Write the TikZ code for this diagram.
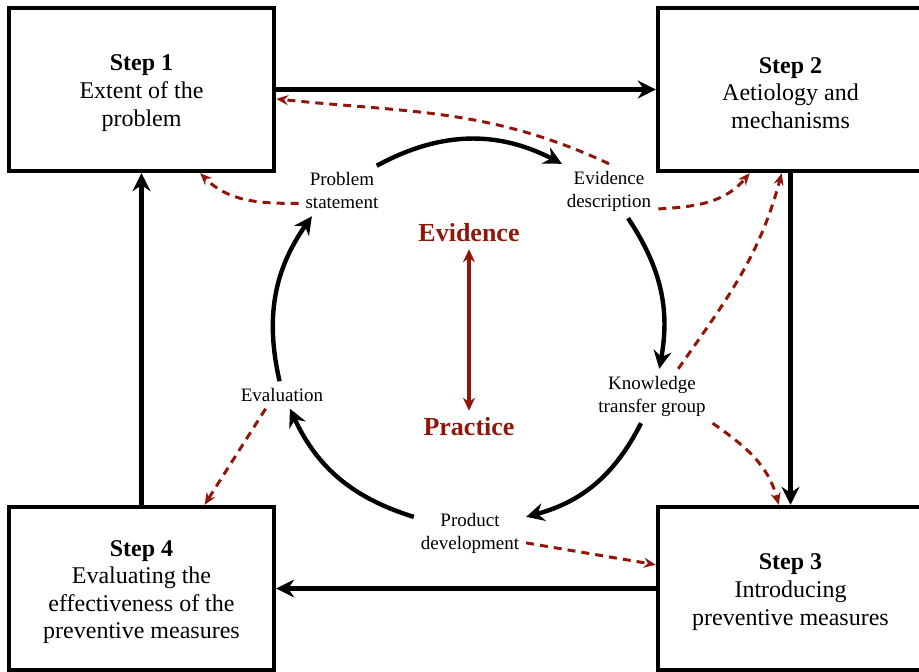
\documentclass[tikz,border=0pt]{standalone}
\usepackage{fontspec}
\setmainfont{Liberation Serif}
\usetikzlibrary{positioning,arrows.meta}

\definecolor{evred}{RGB}{145,22,10}

\begin{document}
\begin{tikzpicture}[x=0.5pt,y=0.5pt,
    stepbox/.style={draw,line width=2.2pt,minimum width=132.5pt,minimum height=81.5pt},
    steptext/.style={align=center,font=\fontsize{12}{13.8}\selectfont},
    stage/.style={align=center,font=\fontsize{9.5}{11.5}\selectfont},
    focus/.style={text=evred,font=\fontsize{13}{15}\selectfont\bfseries},
    flow/.style={line width=2.2pt,-{Stealth[length=9pt,width=9pt,inset=3pt]}},
    feedback/.style={evred,line width=1.5pt,dash pattern=on 4pt off 3pt,
        -{Stealth[length=6pt,width=5pt,inset=2pt]}}]

\useasboundingbox (0,0) rectangle (919,672);
\clip (0,0) rectangle (919,672);

% the four steps
\foreach \x/\y/\name/\head/\body in {
    141.5/582.5/s1/Step 1/{Extent of the\\problem},
    790.5/582.5/s2/Step 2/{Aetiology and\\mechanisms},
    790.5/83.5/s3/Step 3/{Introducing\\preventive measures},
    141.5/83.5/s4/Step 4/{Evaluating the\\effectiveness of the\\preventive measures}} {
    \node[stepbox] (\name) at (\x,\y) {};
    \node[steptext] (\name t) at ([yshift=-1.8pt]\name.center) {\textbf{\head}\\\body};
}

\draw[flow] (s1) -- (s2);
\draw[flow] (s2) -- (s3);
\draw[flow] (s3) -- (s4);
\draw[flow] (s4) -- (s1);

% inner cycle
\node[stage] (ps) at (342,481) {Problem\\statement};
\node[stage] (ed) at (609,481) {Evidence\\description};
\node[stage] (ktg) at (652,276) {Knowledge\\transfer group};
\node[stage] (pd) at (470,139) {Product\\development};
\node[stage] (ev) at (282,277) {Evaluation};

\draw[flow] (ps.36) to[bend left=28] (ed.150);
\draw[flow] (ed.-55) to[bend left=22] (ktg.75);
\draw[flow] (ktg.-112) to[bend left=24] (pd.16);
\draw[flow] (pd.164) to[bend left=24] (ev.-60);
\draw[flow] (ev.100) to[bend left=24] (ps.-140);

\node[focus] (evid) at (469,439) {Evidence};
\node[focus] (prac) at (469,245) {Practice};
\draw[evred,line width=1.6pt,{Stealth[length=6.5pt,width=6pt]}-{Stealth[length=6.5pt,width=6pt]}] (evid) -- (prac);

% feedback to the steps
\draw[feedback] (ed.north) to[out=155,in=-6] (s1.-4);
\draw[feedback] (ps.196) to[out=180,in=-45] (s1.-55);
\draw[feedback] (ed.-20) to[out=3,in=-130] (s2.-116);
\draw[feedback] (ktg.46) to[out=55,in=-105] (s2.-96);
\draw[feedback] (ktg.south east) to[out=-35,in=105] (s3.98);
\draw[feedback] (ev.-140) -- (s4.53);
\draw[feedback] (pd.-10) -- (s3.170);

\end{tikzpicture}
\end{document}
